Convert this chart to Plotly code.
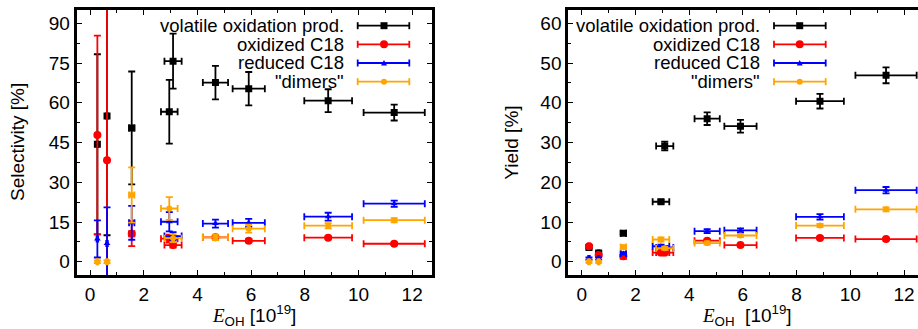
import plotly.graph_objects as go

# ---- data ----
E_OH = [0.27, 0.63, 1.55, 2.95, 3.09, 4.67, 5.91, 8.87, 11.33]
E_OH_err = [0.03, 0.03, 0.10, 0.31, 0.32, 0.47, 0.60, 0.89, 1.14]

series_names = ["volatile oxidation prod.", "oxidized C18", "reduced C18", "\"dimers\""]
series_colors = ["#000000", "#ff0000", "#0000ff", "#ffa500"]
series_symbols = ["square", "circle", "triangle-up", "circle"]
series_sizes = [7, 8, 6, 6]

sel_volatile = [44.3, 55.0, 50.5, 56.6, 75.7, 67.6, 65.3, 60.8, 56.3]
sel_volatile_err = [34.0, 45.0, 21.3, 12.0, 10.4, 6.3, 6.3, 4.3, 3.0]
sel_oxidized = [47.8, 38.3, 10.6, 8.7, 6.3, 9.2, 7.9, 9.1, 6.8]
sel_oxidized_err = [37.5, 60.0, 4.7, 1.5, 1.0, 0.8, 0.6, 0.5, 0.5]
sel_reduced = [8.6, 6.9, 14.7, 15.1, 9.7, 14.4, 14.7, 17.0, 21.9]
sel_reduced_err = [7.0, 13.6, 6.4, 3.6, 1.5, 1.5, 1.5, 1.5, 1.2]
sel_dimers = [0.0, 0.0, 25.2, 20.1, 8.9, 9.2, 12.5, 13.6, 15.7]
sel_dimers_err = [0.5, 0.5, 10.4, 4.3, 1.5, 1.0, 1.5, 1.0, 0.8]

yld_volatile = [3.6, 2.2, 7.2, 15.1, 29.1, 36.0, 34.1, 40.4, 46.9]
yld_volatile_err = [0.3, 0.3, 0.3, 0.5, 1.1, 1.6, 1.6, 1.85, 2.0]
yld_oxidized = [3.9, 1.7, 1.4, 2.3, 2.3, 5.3, 4.2, 6.0, 5.7]
yld_oxidized_err = [0.3, 0.3, 0.3, 0.3, 0.3, 0.3, 0.3, 0.3, 0.3]
yld_reduced = [0.8, 0.8, 2.1, 3.9, 3.6, 7.7, 7.9, 11.3, 18.0]
yld_reduced_err = [0.3, 0.3, 0.3, 0.4, 0.4, 0.5, 0.5, 0.7, 0.8]
yld_dimers = [0.0, 0.0, 3.7, 5.6, 3.4, 4.7, 6.6, 9.1, 13.2]
yld_dimers_err = [0.3, 0.3, 0.4, 0.5, 0.4, 0.4, 0.4, 0.4, 0.5]

x_ticks = [0, 2, 4, 6, 8, 10, 12]
sel_ticks = [0, 15, 30, 45, 60, 75, 90]
yld_ticks = [0, 10, 20, 30, 40, 50, 60]

W, H = 918, 329
FONT = "Liberation Sans, Arial, sans-serif"

fig = go.Figure()

sel_data = [(sel_volatile, sel_volatile_err), (sel_oxidized, sel_oxidized_err),
            (sel_reduced, sel_reduced_err), (sel_dimers, sel_dimers_err)]
yld_data = [(yld_volatile, yld_volatile_err), (yld_oxidized, yld_oxidized_err),
            (yld_reduced, yld_reduced_err), (yld_dimers, yld_dimers_err)]

for panel, data in (("", sel_data), ("2", yld_data)):
    for i, (vals, errs) in enumerate(data):
        c = series_colors[i]
        fig.add_trace(go.Scatter(
            x=E_OH, y=vals, mode="markers", name=series_names[i],
            xaxis="x" + panel, yaxis="y" + panel, showlegend=False,
            marker=dict(symbol=series_symbols[i], size=series_sizes[i], color=c, line=dict(width=0)),
            error_y=dict(type="data", array=errs, color=c, thickness=1.8, width=3.5),
            error_x=dict(type="data", array=E_OH_err, color=c, thickness=1.8, width=3.5),
        ))

ydom = [1 - 275 / H, 1 - 10 / H]
left_dom = [76.7 / W, 432.3 / W]
right_dom = [568.3 / W, 1.0]

axis_common = dict(
    showline=True, linewidth=3, linecolor="black", showgrid=False, zeroline=False,
    ticks="inside", ticklen=5, tickwidth=1, tickcolor="black",
    tickfont=dict(family=FONT, size=19, color="black"),
)

fig.update_layout(
    width=W, height=H, margin=dict(l=0, r=0, t=0, b=0),
    paper_bgcolor="white", plot_bgcolor="white", showlegend=False,
    xaxis=dict(domain=left_dom, range=[-0.5, 12.75], tickvals=x_ticks, mirror="allticks",
               minor=dict(dtick=1, tick0=0, ticks="inside", ticklen=3, tickcolor="black"),
               anchor="y", **axis_common),
    yaxis=dict(domain=ydom, range=[-5, 95], tickvals=sel_ticks, mirror="allticks",
               minor=dict(dtick=7.5, tick0=0, ticks="inside", ticklen=3, tickcolor="black"),
               anchor="x", **axis_common),
    xaxis2=dict(domain=right_dom, range=[-0.5, 12.52], tickvals=x_ticks, mirror="allticks",
                minor=dict(dtick=1, tick0=0, ticks="inside", ticklen=3, tickcolor="black"),
                anchor="y2", **axis_common),
    yaxis2=dict(domain=ydom, range=[-10 / 3, 190 / 3], tickvals=yld_ticks, mirror=False,
                minor=dict(dtick=5, tick0=0, ticks="inside", ticklen=3, tickcolor="black"),
                anchor="x2", **axis_common),
)

# axis titles
xtitle = ("<span style=\"font-family:'Liberation Serif';font-style:italic\">E</span>"
          "<sub>OH</sub> [10<sup>19</sup>]")
annots = [
    dict(text=xtitle, x=254 / W, y=1 - 315.5 / H, xref="paper", yref="paper",
         xanchor="center", yanchor="middle", showarrow=False,
         font=dict(family=FONT, size=19, color="black")),
    dict(text=xtitle.replace("</sub> [", "</sub>  ["), x=746.5 / W, y=1 - 315.5 / H, xref="paper", yref="paper",
         xanchor="center", yanchor="middle", showarrow=False,
         font=dict(family=FONT, size=19, color="black")),
    dict(text="Selectivity [%]", x=17 / W, y=1 - 142 / H, xref="paper", yref="paper",
         xanchor="center", yanchor="middle", textangle=-90, showarrow=False,
         font=dict(family=FONT, size=19, color="black")),
    dict(text="Yield [%]", x=510.7 / W, y=1 - 143 / H, xref="paper", yref="paper",
         xanchor="center", yanchor="middle", textangle=-90, showarrow=False,
         font=dict(family=FONT, size=19, color="black")),
]

# custom legends (gnuplot style: text right-aligned, sample on right)
shapes = []
row_y = [25.7, 44.3, 63.0, 81.7]
for text_right, s0, s1, mk in ((346, 357.7, 409.3, 384), (762.3, 774, 825.7, 799.7)):
    for i, name in enumerate(series_names):
        yy = 1 - row_y[i] / H
        c = series_colors[i]
        annots.append(dict(text=name, x=text_right / W, y=yy, xref="paper", yref="paper",
                           xanchor="right", yanchor="middle", showarrow=False,
                           font=dict(family=FONT, size=18.5, color="black")))
        shapes.append(dict(type="line", xref="paper", yref="paper", x0=s0 / W, x1=s1 / W,
                           y0=yy, y1=yy, line=dict(color=c, width=1.8)))
        for xc in (s0, s1):
            shapes.append(dict(type="line", xref="paper", yref="paper", x0=xc / W, x1=xc / W,
                               y0=yy - 3.5 / H, y1=yy + 3.5 / H, line=dict(color=c, width=1.8)))
        r = [3.5, 4, 3, 3][i]
        if i == 0:
            shapes.append(dict(type="rect", xref="paper", yref="paper",
                               x0=(mk - r) / W, x1=(mk + r) / W, y0=yy - r / H, y1=yy + r / H,
                               fillcolor=c, line=dict(width=0)))
        elif i == 2:
            px = lambda v: v / W
            py = lambda v: 1 - v / H
            yr = row_y[i]
            path = (f"M {px(mk - r)} {py(yr + 2.5)} L {px(mk + r)} {py(yr + 2.5)} "
                    f"L {px(mk)} {py(yr - 3)} Z")
            shapes.append(dict(type="path", xref="paper", yref="paper", path=path,
                               fillcolor=c, line=dict(width=0)))
        else:
            shapes.append(dict(type="circle", xref="paper", yref="paper",
                               x0=(mk - r) / W, x1=(mk + r) / W, y0=yy - r / H, y1=yy + r / H,
                               fillcolor=c, line=dict(width=0)))

fig.update_layout(annotations=annots, shapes=shapes)
fig.write_html("out.html", config={"displayModeBar": False},
               post_script="document.body.style.margin='0';document.body.style.overflow='hidden';")
